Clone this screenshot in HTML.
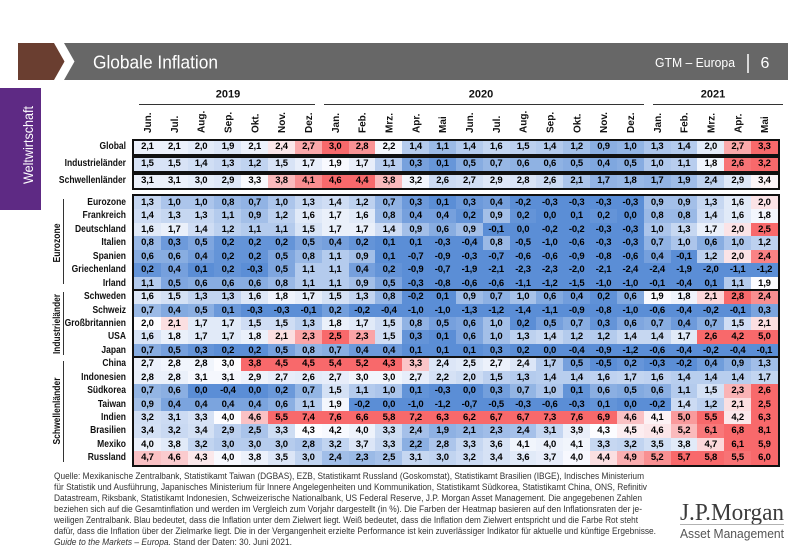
<!DOCTYPE html>
<html lang="de">
<head>
<meta charset="utf-8">
<style>
html,body{margin:0;padding:0;}
body{width:800px;height:554px;position:relative;background:#fff;overflow:hidden;font-family:"Liberation Sans",Arial,sans-serif;}
svg.bg{position:absolute;left:0;top:0;}
.box{position:absolute;left:132px;width:648px;border:2px solid #111;box-sizing:border-box;}
.tb{height:16.5px;}
.tb .r{height:12.5px;line-height:12.5px;}
.mb{top:194px;height:273px;}
.mb .r{height:13.45px;line-height:13.45px;}
.r{display:flex;}
.r b{flex:1 1 0;text-align:center;font-weight:bold;font-size:9.5px;color:#000;letter-spacing:-0.2px;white-space:nowrap;overflow:hidden;}
.sep{position:absolute;left:132px;width:648px;height:2px;background:#111;}
.labs{position:absolute;left:0;width:126px;}
.labs div{height:13.45px;line-height:13.45px;text-align:right;font-weight:bold;font-size:10px;color:#111;white-space:nowrap;transform:scaleX(.85);transform-origin:100% 50%;}
.tl{position:absolute;left:0;width:126px;height:12.5px;line-height:12.5px;text-align:right;font-weight:bold;font-size:10px;color:#111;white-space:nowrap;transform:scaleX(.85);transform-origin:100% 50%;}
</style>
</head>
<body>
<svg class="bg" width="800" height="554" viewBox="0 0 800 554" xmlns="http://www.w3.org/2000/svg">
  <!-- header -->
  <polygon points="18,43 54,43 64.5,61.5 54,80 18,80" fill="#6a3e30"/>
  <polygon points="64,43 788,43 788,80 64,80 74.5,61.5" fill="#676767"/>
  <text x="93" y="68.5" font-family="Liberation Sans, Arial, sans-serif" font-size="18" fill="#fff" textLength="125" lengthAdjust="spacingAndGlyphs">Globale Inflation</text>
  <text x="655" y="67" font-family="Liberation Sans, Arial, sans-serif" font-size="13" fill="#fff" textLength="80" lengthAdjust="spacingAndGlyphs">GTM – Europa</text>
  <line x1="748" y1="54" x2="748" y2="73" stroke="#fff" stroke-width="1.5"/>
  <text x="765" y="68" font-family="Liberation Sans, Arial, sans-serif" font-size="16" fill="#fff" text-anchor="middle">6</text>

  <!-- sidebar -->
  <rect x="0" y="88" width="41" height="122" fill="#5e2a84"/>
  <text transform="translate(33,145) rotate(-90)" text-anchor="middle" font-family="Liberation Sans, Arial, sans-serif" font-size="14" fill="#fff" textLength="78" lengthAdjust="spacingAndGlyphs">Weltwirtschaft</text>

  <!-- years -->
  <g font-family="Liberation Sans, Arial, sans-serif" font-size="11" font-weight="bold" fill="#111" text-anchor="middle">
    <text x="228" y="97.5">2019</text>
    <text x="481" y="97.5">2020</text>
    <text x="713" y="97.5">2021</text>
  </g>
  <g stroke="#333" stroke-width="1">
    <line x1="139" y1="104.5" x2="315" y2="104.5"/>
    <line x1="324" y1="104.5" x2="644" y2="104.5"/>
    <line x1="653" y1="104.5" x2="783" y2="104.5"/>
  </g>

  <!-- months -->
  <g font-family="Liberation Sans, Arial, sans-serif" font-size="10" font-weight="bold" fill="#111">
    <text transform="translate(151,133) rotate(-90)">Jun.</text>
    <text transform="translate(177.9,133) rotate(-90)">Jul.</text>
    <text transform="translate(204.7,133) rotate(-90)">Aug.</text>
    <text transform="translate(231.5,133) rotate(-90)">Sep.</text>
    <text transform="translate(258.4,133) rotate(-90)">Okt.</text>
    <text transform="translate(285.2,133) rotate(-90)">Nov.</text>
    <text transform="translate(312,133) rotate(-90)">Dez.</text>
    <text transform="translate(338.9,133) rotate(-90)">Jan.</text>
    <text transform="translate(365.7,133) rotate(-90)">Feb.</text>
    <text transform="translate(392.5,133) rotate(-90)">Mrz.</text>
    <text transform="translate(419.4,133) rotate(-90)">Apr.</text>
    <text transform="translate(446.2,133) rotate(-90)">Mai</text>
    <text transform="translate(473,133) rotate(-90)">Jun.</text>
    <text transform="translate(499.9,133) rotate(-90)">Jul.</text>
    <text transform="translate(526.7,133) rotate(-90)">Aug.</text>
    <text transform="translate(553.5,133) rotate(-90)">Sep.</text>
    <text transform="translate(580.4,133) rotate(-90)">Okt.</text>
    <text transform="translate(607.2,133) rotate(-90)">Nov.</text>
    <text transform="translate(634,133) rotate(-90)">Dez.</text>
    <text transform="translate(660.9,133) rotate(-90)">Jan.</text>
    <text transform="translate(687.7,133) rotate(-90)">Feb.</text>
    <text transform="translate(714.5,133) rotate(-90)">Mrz.</text>
    <text transform="translate(741.4,133) rotate(-90)">Apr.</text>
    <text transform="translate(768.2,133) rotate(-90)">Mai</text>
  </g>

  <!-- group labels -->
  <g font-family="Liberation Sans, Arial, sans-serif" font-size="10" font-weight="bold" fill="#111" text-anchor="middle">
    <text transform="translate(60,243) rotate(-90)" textLength="39" lengthAdjust="spacingAndGlyphs">Eurozone</text>
    <text transform="translate(60,324) rotate(-90)" textLength="60" lengthAdjust="spacingAndGlyphs">Industrieländer</text>
    <text transform="translate(60,411) rotate(-90)" textLength="67" lengthAdjust="spacingAndGlyphs">Schwellenländer</text>
  </g>
  <g stroke="#333" stroke-width="1">
    <line x1="63.5" y1="199" x2="63.5" y2="284"/>
    <line x1="63.5" y1="292" x2="63.5" y2="355"/>
    <line x1="63.5" y1="361" x2="63.5" y2="462"/>
  </g>

  <!-- footer -->
  <g font-family="Liberation Sans, Arial, sans-serif" font-size="9" fill="#333">
    <text x="54" y="479" textLength="590" lengthAdjust="spacingAndGlyphs">Quelle: Mexikanische Zentralbank, Statistikamt Taiwan (DGBAS), EZB, Statistikamt Russland (Goskomstat), Statistikamt Brasilien (IBGE), Indisches Ministerium</text>
    <text x="54" y="490" textLength="593" lengthAdjust="spacingAndGlyphs">für Statistik und Ausführung, Japanisches Ministerium für Innere Angelegenheiten und Kommunikation, Statistikamt Südkorea, Statistikamt China, ONS, Refinitiv</text>
    <text x="54" y="501" textLength="588" lengthAdjust="spacingAndGlyphs">Datastream, Riksbank, Statistikamt Indonesien, Schweizerische Nationalbank, US Federal Reserve, J.P. Morgan Asset Management. Die angegebenen Zahlen</text>
    <text x="54" y="512" textLength="588" lengthAdjust="spacingAndGlyphs">beziehen sich auf die Gesamtinflation und werden im Vergleich zum Vorjahr dargestellt (in %). Die Farben der Heatmap basieren auf den Inflationsraten der je-</text>
    <text x="54" y="523" textLength="584" lengthAdjust="spacingAndGlyphs">weiligen Zentralbank. Blau bedeutet, dass die Inflation unter dem Zielwert liegt. Weiß bedeutet, dass die Inflation dem Zielwert entspricht und die Farbe Rot steht</text>
    <text x="54" y="534" textLength="602" lengthAdjust="spacingAndGlyphs">dafür, dass die Inflation über der Zielmarke liegt. Die in der Vergangenheit erzielte Performance ist kein zuverlässiger Indikator für aktuelle und künftige Ergebnisse.</text>
    <text x="54" y="545" textLength="238" lengthAdjust="spacingAndGlyphs"><tspan font-style="italic">Guide to the Markets – Europa.</tspan> Stand der Daten: 30. Juni 2021.</text>
  </g>

  <!-- logo -->
  <text x="680" y="520" font-family="Liberation Serif, serif" font-size="24" fill="#3c3c3c" textLength="104" lengthAdjust="spacingAndGlyphs">J.P.Morgan</text>
  <line x1="680" y1="524.5" x2="784" y2="524.5" stroke="#999" stroke-width="0.8"/>
  <text x="680" y="538" font-family="Liberation Sans, Arial, sans-serif" font-size="12.5" fill="#555" textLength="104" lengthAdjust="spacingAndGlyphs">Asset Management</text>
</svg>

<!-- top labels -->
<div class="tl" style="top:141px">Global</div>
<div class="tl" style="top:158px">Industrieländer</div>
<div class="tl" style="top:175px">Schwellenländer</div>

<!-- top boxes -->
<div class="box tb" style="top:139px"><div class="r"><b>2,1</b><b>2,1</b><b>2,0</b><b>1,9</b><b>2,1</b><b>2,4</b><b>2,7</b><b>3,0</b><b>2,8</b><b>2,2</b><b>1,4</b><b>1,1</b><b>1,4</b><b>1,6</b><b>1,5</b><b>1,4</b><b>1,2</b><b>0,9</b><b>1,0</b><b>1,3</b><b>1,4</b><b>2,0</b><b>2,7</b><b>3,3</b></div></div>
<div class="box tb" style="top:156px"><div class="r"><b>1,5</b><b>1,5</b><b>1,4</b><b>1,3</b><b>1,2</b><b>1,5</b><b>1,7</b><b>1,9</b><b>1,7</b><b>1,1</b><b>0,3</b><b>0,1</b><b>0,5</b><b>0,7</b><b>0,6</b><b>0,6</b><b>0,5</b><b>0,4</b><b>0,5</b><b>1,0</b><b>1,1</b><b>1,8</b><b>2,6</b><b>3,2</b></div></div>
<div class="box tb" style="top:173px"><div class="r"><b>3,1</b><b>3,1</b><b>3,0</b><b>2,9</b><b>3,3</b><b>3,8</b><b>4,1</b><b>4,6</b><b>4,4</b><b>3,8</b><b>3,2</b><b>2,6</b><b>2,7</b><b>2,9</b><b>2,8</b><b>2,6</b><b>2,1</b><b>1,7</b><b>1,8</b><b>1,7</b><b>1,9</b><b>2,4</b><b>2,9</b><b>3,4</b></div></div>

<!-- main labels -->
<div class="labs" style="top:196px">
<div>Eurozone</div><div>Frankreich</div><div>Deutschland</div><div>Italien</div><div>Spanien</div><div>Griechenland</div><div>Irland</div>
<div>Schweden</div><div>Schweiz</div><div>Großbritannien</div><div>USA</div><div>Japan</div>
<div>China</div><div>Indonesien</div><div>Südkorea</div><div>Taiwan</div><div>Indien</div><div>Brasilien</div><div>Mexiko</div><div>Russland</div>
</div>

<!-- main table -->
<div class="box mb">
<div class="r"><b>1,3</b><b>1,0</b><b>1,0</b><b>0,8</b><b>0,7</b><b>1,0</b><b>1,3</b><b>1,4</b><b>1,2</b><b>0,7</b><b>0,3</b><b>0,1</b><b>0,3</b><b>0,4</b><b>-0,2</b><b>-0,3</b><b>-0,3</b><b>-0,3</b><b>-0,3</b><b>0,9</b><b>0,9</b><b>1,3</b><b>1,6</b><b>2,0</b></div>
<div class="r"><b>1,4</b><b>1,3</b><b>1,3</b><b>1,1</b><b>0,9</b><b>1,2</b><b>1,6</b><b>1,7</b><b>1,6</b><b>0,8</b><b>0,4</b><b>0,4</b><b>0,2</b><b>0,9</b><b>0,2</b><b>0,0</b><b>0,1</b><b>0,2</b><b>0,0</b><b>0,8</b><b>0,8</b><b>1,4</b><b>1,6</b><b>1,8</b></div>
<div class="r"><b>1,6</b><b>1,7</b><b>1,4</b><b>1,2</b><b>1,1</b><b>1,1</b><b>1,5</b><b>1,7</b><b>1,7</b><b>1,4</b><b>0,9</b><b>0,6</b><b>0,9</b><b>-0,1</b><b>0,0</b><b>-0,2</b><b>-0,2</b><b>-0,3</b><b>-0,3</b><b>1,0</b><b>1,3</b><b>1,7</b><b>2,0</b><b>2,5</b></div>
<div class="r"><b>0,8</b><b>0,3</b><b>0,5</b><b>0,2</b><b>0,2</b><b>0,2</b><b>0,5</b><b>0,4</b><b>0,2</b><b>0,1</b><b>0,1</b><b>-0,3</b><b>-0,4</b><b>0,8</b><b>-0,5</b><b>-1,0</b><b>-0,6</b><b>-0,3</b><b>-0,3</b><b>0,7</b><b>1,0</b><b>0,6</b><b>1,0</b><b>1,2</b></div>
<div class="r"><b>0,6</b><b>0,6</b><b>0,4</b><b>0,2</b><b>0,2</b><b>0,5</b><b>0,8</b><b>1,1</b><b>0,9</b><b>0,1</b><b>-0,7</b><b>-0,9</b><b>-0,3</b><b>-0,7</b><b>-0,6</b><b>-0,6</b><b>-0,9</b><b>-0,8</b><b>-0,6</b><b>0,4</b><b>-0,1</b><b>1,2</b><b>2,0</b><b>2,4</b></div>
<div class="r"><b>0,2</b><b>0,4</b><b>0,1</b><b>0,2</b><b>-0,3</b><b>0,5</b><b>1,1</b><b>1,1</b><b>0,4</b><b>0,2</b><b>-0,9</b><b>-0,7</b><b>-1,9</b><b>-2,1</b><b>-2,3</b><b>-2,3</b><b>-2,0</b><b>-2,1</b><b>-2,4</b><b>-2,4</b><b>-1,9</b><b>-2,0</b><b>-1,1</b><b>-1,2</b></div>
<div class="r"><b>1,1</b><b>0,5</b><b>0,6</b><b>0,6</b><b>0,6</b><b>0,8</b><b>1,1</b><b>1,1</b><b>0,9</b><b>0,5</b><b>-0,3</b><b>-0,8</b><b>-0,6</b><b>-0,6</b><b>-1,1</b><b>-1,2</b><b>-1,5</b><b>-1,0</b><b>-1,0</b><b>-0,1</b><b>-0,4</b><b>0,1</b><b>1,1</b><b>1,9</b></div>
<div class="r"><b>1,6</b><b>1,5</b><b>1,3</b><b>1,3</b><b>1,6</b><b>1,8</b><b>1,7</b><b>1,5</b><b>1,3</b><b>0,8</b><b>-0,2</b><b>0,1</b><b>0,9</b><b>0,7</b><b>1,0</b><b>0,6</b><b>0,4</b><b>0,2</b><b>0,6</b><b>1,9</b><b>1,8</b><b>2,1</b><b>2,8</b><b>2,4</b></div>
<div class="r"><b>0,7</b><b>0,4</b><b>0,5</b><b>0,1</b><b>-0,3</b><b>-0,3</b><b>-0,1</b><b>0,2</b><b>-0,2</b><b>-0,4</b><b>-1,0</b><b>-1,0</b><b>-1,3</b><b>-1,2</b><b>-1,4</b><b>-1,1</b><b>-0,9</b><b>-0,8</b><b>-1,0</b><b>-0,6</b><b>-0,4</b><b>-0,2</b><b>-0,1</b><b>0,3</b></div>
<div class="r"><b>2,0</b><b>2,1</b><b>1,7</b><b>1,7</b><b>1,5</b><b>1,5</b><b>1,3</b><b>1,8</b><b>1,7</b><b>1,5</b><b>0,8</b><b>0,5</b><b>0,6</b><b>1,0</b><b>0,2</b><b>0,5</b><b>0,7</b><b>0,3</b><b>0,6</b><b>0,7</b><b>0,4</b><b>0,7</b><b>1,5</b><b>2,1</b></div>
<div class="r"><b>1,6</b><b>1,8</b><b>1,7</b><b>1,7</b><b>1,8</b><b>2,1</b><b>2,3</b><b>2,5</b><b>2,3</b><b>1,5</b><b>0,3</b><b>0,1</b><b>0,6</b><b>1,0</b><b>1,3</b><b>1,4</b><b>1,2</b><b>1,2</b><b>1,4</b><b>1,4</b><b>1,7</b><b>2,6</b><b>4,2</b><b>5,0</b></div>
<div class="r"><b>0,7</b><b>0,5</b><b>0,3</b><b>0,2</b><b>0,2</b><b>0,5</b><b>0,8</b><b>0,7</b><b>0,4</b><b>0,4</b><b>0,1</b><b>0,1</b><b>0,1</b><b>0,3</b><b>0,2</b><b>0,0</b><b>-0,4</b><b>-0,9</b><b>-1,2</b><b>-0,6</b><b>-0,4</b><b>-0,2</b><b>-0,4</b><b>-0,1</b></div>
<div class="r"><b>2,7</b><b>2,8</b><b>2,8</b><b>3,0</b><b>3,8</b><b>4,5</b><b>4,5</b><b>5,4</b><b>5,2</b><b>4,3</b><b>3,3</b><b>2,4</b><b>2,5</b><b>2,7</b><b>2,4</b><b>1,7</b><b>0,5</b><b>-0,5</b><b>0,2</b><b>-0,3</b><b>-0,2</b><b>0,4</b><b>0,9</b><b>1,3</b></div>
<div class="r"><b>2,8</b><b>2,8</b><b>3,1</b><b>3,1</b><b>2,9</b><b>2,7</b><b>2,6</b><b>2,7</b><b>3,0</b><b>3,0</b><b>2,7</b><b>2,2</b><b>2,0</b><b>1,5</b><b>1,3</b><b>1,4</b><b>1,4</b><b>1,6</b><b>1,7</b><b>1,6</b><b>1,4</b><b>1,4</b><b>1,4</b><b>1,7</b></div>
<div class="r"><b>0,7</b><b>0,6</b><b>0,0</b><b>-0,4</b><b>0,0</b><b>0,2</b><b>0,7</b><b>1,5</b><b>1,1</b><b>1,0</b><b>0,1</b><b>-0,3</b><b>0,0</b><b>0,3</b><b>0,7</b><b>1,0</b><b>0,1</b><b>0,6</b><b>0,5</b><b>0,6</b><b>1,1</b><b>1,5</b><b>2,3</b><b>2,6</b></div>
<div class="r"><b>0,9</b><b>0,4</b><b>0,4</b><b>0,4</b><b>0,4</b><b>0,6</b><b>1,1</b><b>1,9</b><b>-0,2</b><b>0,0</b><b>-1,0</b><b>-1,2</b><b>-0,7</b><b>-0,5</b><b>-0,3</b><b>-0,6</b><b>-0,3</b><b>0,1</b><b>0,0</b><b>-0,2</b><b>1,4</b><b>1,2</b><b>2,1</b><b>2,5</b></div>
<div class="r"><b>3,2</b><b>3,1</b><b>3,3</b><b>4,0</b><b>4,6</b><b>5,5</b><b>7,4</b><b>7,6</b><b>6,6</b><b>5,8</b><b>7,2</b><b>6,3</b><b>6,2</b><b>6,7</b><b>6,7</b><b>7,3</b><b>7,6</b><b>6,9</b><b>4,6</b><b>4,1</b><b>5,0</b><b>5,5</b><b>4,2</b><b>6,3</b></div>
<div class="r"><b>3,4</b><b>3,2</b><b>3,4</b><b>2,9</b><b>2,5</b><b>3,3</b><b>4,3</b><b>4,2</b><b>4,0</b><b>3,3</b><b>2,4</b><b>1,9</b><b>2,1</b><b>2,3</b><b>2,4</b><b>3,1</b><b>3,9</b><b>4,3</b><b>4,5</b><b>4,6</b><b>5,2</b><b>6,1</b><b>6,8</b><b>8,1</b></div>
<div class="r"><b>4,0</b><b>3,8</b><b>3,2</b><b>3,0</b><b>3,0</b><b>3,0</b><b>2,8</b><b>3,2</b><b>3,7</b><b>3,3</b><b>2,2</b><b>2,8</b><b>3,3</b><b>3,6</b><b>4,1</b><b>4,0</b><b>4,1</b><b>3,3</b><b>3,2</b><b>3,5</b><b>3,8</b><b>4,7</b><b>6,1</b><b>5,9</b></div>
<div class="r"><b>4,7</b><b>4,6</b><b>4,3</b><b>4,0</b><b>3,8</b><b>3,5</b><b>3,0</b><b>2,4</b><b>2,3</b><b>2,5</b><b>3,1</b><b>3,0</b><b>3,2</b><b>3,4</b><b>3,6</b><b>3,7</b><b>4,0</b><b>4,4</b><b>4,9</b><b>5,2</b><b>5,7</b><b>5,8</b><b>5,5</b><b>6,0</b></div>
</div>
<div class="sep" style="top:289.2px"></div>
<div class="sep" style="top:356.4px"></div>

<script>
(function(){
  var P=[
    [2.3,2.0,0.7],[1.95,2.0,0.7],[3.35,2.5,1.0],
    [1.9,1.8,0.6],[1.9,1.8,0.6],[1.9,1.8,0.6],[1.9,1.8,0.6],[1.9,1.8,0.6],[1.9,1.8,0.6],[1.9,1.8,0.6],
    [1.95,1.8,0.6],[1.9,2.0,0.6],[2.0,1.8,0.5],[2.0,1.8,0.5],[2.0,1.8,0.5],
    [3.0,3.0,0.8],[3.3,4.5,1.0],[2.0,2.0,0.6],[2.0,2.0,0.5],[4.0,3.0,1.5],[4.3,3.5,2.0],[4.3,3.0,1.6],[4.1,3.0,1.5]
  ];
  var W=[252,252,255],B=[91,142,214],R=[248,105,107];
  function col(v,p){
    var k,c;
    if(v<p[0]){k=Math.min(1,(p[0]-v)/p[1]);c=B;}else{k=Math.min(1,(v-p[0])/p[2]);c=R;}
    var o=[];for(var i=0;i<3;i++){o.push(Math.round(W[i]+(c[i]-W[i])*k));}
    return 'rgb('+o.join(',')+')';
  }
  var rows=document.querySelectorAll('.r');
  for(var i=0;i<rows.length;i++){
    var cells=rows[i].querySelectorAll('b');
    for(var j=0;j<cells.length;j++){
      var v=parseFloat(cells[j].textContent.replace(',','.'));
      cells[j].style.background=col(v,P[i]);
    }
  }
})();
</script>
</body>
</html>
